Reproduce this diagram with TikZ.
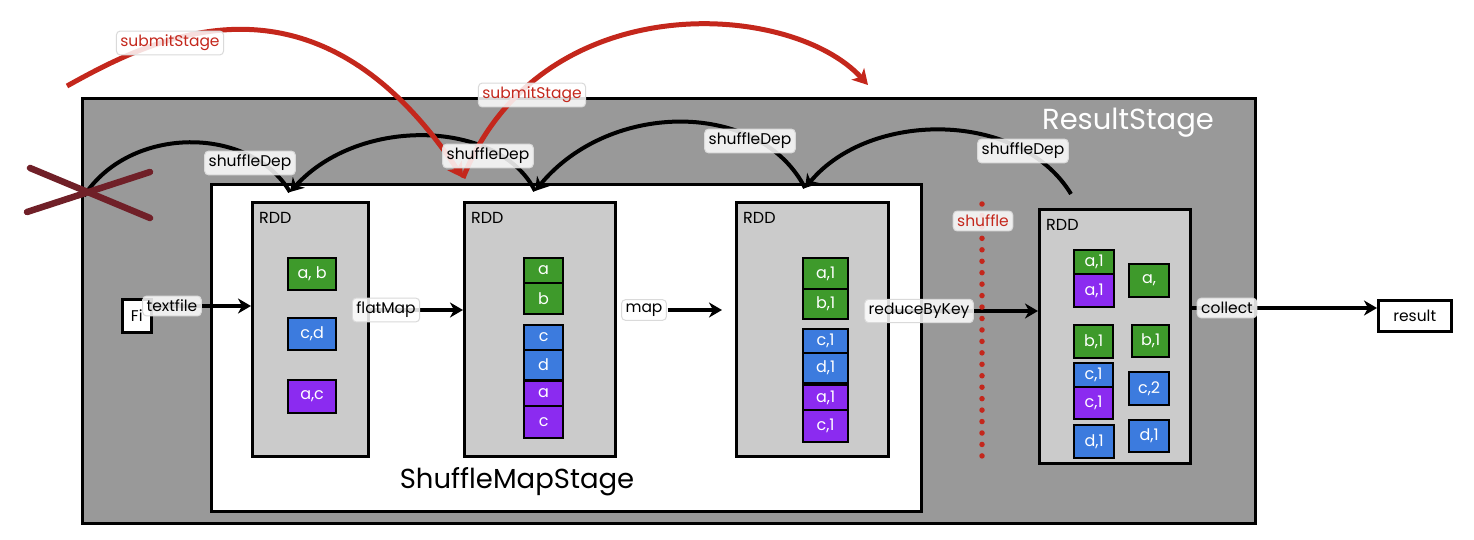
\documentclass[tikz,border=0pt]{standalone}
\usepackage{fontspec}
\setmainfont{Poppins}
\usetikzlibrary{arrows.meta,calc}
\definecolor{outergray}{HTML}{999999}
\definecolor{rddgray}{HTML}{CBCBCB}
\definecolor{cgreen}{HTML}{3E9A2B}
\definecolor{cblue}{HTML}{3C7BDE}
\definecolor{cpurple}{HTML}{8B2BF0}
\definecolor{cred}{HTML}{C4271C}
\definecolor{crossred}{HTML}{702028}
\definecolor{lblborder}{HTML}{DADADA}
\tikzset{
  stagebox/.style={draw=black, line width=3pt, inner sep=0pt, anchor=north west},
  rddbox/.style={draw=black, line width=2.6pt, fill=rddgray, inner sep=0pt, anchor=north west},
  cellbox/.style={draw=black, line width=2.2pt, inner sep=0pt, text=white, font=\fontsize{16}{16}\selectfont, anchor=north west},
  rddtxt/.style={anchor=west, inner sep=0pt, font=\fontsize{16}{16}\selectfont},
  lbl/.style={draw=lblborder, line width=1pt, fill=white, fill opacity=0.85, text opacity=1, rounded corners=4pt, inner xsep=4pt, inner ysep=4pt, font=\fontsize{15.5}{15.5}\selectfont},
  redlbl/.style={lbl, text=cred},
  flowarrow/.style={line width=4pt, -{Stealth[length=13pt,width=15pt,inset=4pt]}},
  deparrow/.style={line width=4pt, -{Stealth[length=13pt,width=16pt,inset=4pt]}},
  depline/.style={line width=4pt},
  redarrow/.style={draw=cred, line width=5pt, -{Stealth[length=15pt,width=17pt,inset=4pt]}},
  crossline/.style={draw=crossred, line width=6.5pt, line cap=round},
  smallbox/.style={draw=black, line width=2.5pt, fill=white, inner sep=0pt, anchor=north west, font=\fontsize{15.5}{15.5}\selectfont},
}
\begin{document}
\begin{tikzpicture}[x=1pt,y=-1pt]
\useasboundingbox (0,0) rectangle (1474,540);

% stages
\node[stagebox, fill=outergray, minimum width=1173pt, minimum height=425pt] (rstage) at (81,97) {};
\node[stagebox, fill=white, minimum width=710pt, minimum height=327pt] (smstage) at (210,183) {};
\node[font=\fontsize{27.5}{27.5}\selectfont] (smtitle) at (517,482) {ShuffleMapStage};
\node[font=\fontsize{29}{29}\selectfont, text=white] (rtitle) at (1128,123) {ResultStage};

% RDD boxes
\node[rddbox, minimum width=116pt, minimum height=254pt] (rdd1) at (251,201) {};
\node[rddbox, minimum width=151pt, minimum height=254pt] (rdd2) at (463,201) {};
\node[rddbox, minimum width=152pt, minimum height=254pt] (rdd3) at (735,201) {};
\node[rddbox, minimum width=151pt, minimum height=254pt] (rdd4) at (1038,208) {};
\node[rddtxt] (rdd1t) at ($(rdd1.north west)+(8,17)$) {RDD};
\node[rddtxt] (rdd2t) at ($(rdd2.north west)+(8,17)$) {RDD};
\node[rddtxt] (rdd3t) at ($(rdd3.north west)+(8,17)$) {RDD};
\node[rddtxt] (rdd4t) at ($(rdd4.north west)+(8,17)$) {RDD};

% RDD1 cells
\node[cellbox, fill=cgreen, minimum width=48pt, minimum height=32pt] (r1a) at (287,257) {a, b};
\node[cellbox, fill=cblue, minimum width=48pt, minimum height=32pt] (r1b) at (287,317) {c,d};
\node[cellbox, fill=cpurple, minimum width=48pt, minimum height=33pt] (r1c) at (287,379) {a,c};

% RDD2 cells
\node[cellbox, fill=cgreen, minimum width=39pt, minimum height=25pt] (r2a) at (523,257) {a};
\node[cellbox, fill=cgreen, minimum width=39pt, minimum height=31pt] (r2b) at (523,282) {b};
\node[cellbox, fill=cblue, minimum width=39pt, minimum height=25pt] (r2c) at (523,324) {c};
\node[cellbox, fill=cblue, minimum width=39pt, minimum height=30pt] (r2d) at (523,349) {d};
\node[cellbox, fill=cpurple, minimum width=39pt, minimum height=25pt] (r2e) at (523,380) {a};
\node[cellbox, fill=cpurple, minimum width=39pt, minimum height=32pt] (r2f) at (523,405) {c};

% RDD3 cells
\node[cellbox, fill=cgreen, minimum width=45pt, minimum height=31pt] (r3a) at (802,257) {a,1};
\node[cellbox, fill=cgreen, minimum width=45pt, minimum height=30pt] (r3b) at (802,288) {b,1};
\node[cellbox, fill=cblue, minimum width=45pt, minimum height=24pt] (r3c) at (802,328) {c,1};
\node[cellbox, fill=cblue, minimum width=45pt, minimum height=30pt] (r3d) at (802,352) {d,1};
\node[cellbox, fill=cpurple, minimum width=45pt, minimum height=25pt] (r3e) at (802,384) {a,1};
\node[cellbox, fill=cpurple, minimum width=45pt, minimum height=32pt] (r3f) at (802,409) {c,1};

% RDD4 cells
\node[cellbox, fill=cgreen, minimum width=40pt, minimum height=24pt] (r4a) at (1073,249) {a,1};
\node[cellbox, fill=cpurple, minimum width=40pt, minimum height=33pt] (r4b) at (1073,273) {a,1};
\node[cellbox, fill=cgreen, minimum width=39pt, minimum height=33pt] (r4c) at (1073,324) {b,1};
\node[cellbox, fill=cblue, minimum width=39pt, minimum height=24pt] (r4d) at (1073,362) {c,1};
\node[cellbox, fill=cpurple, minimum width=39pt, minimum height=32pt] (r4e) at (1073,386) {c,1};
\node[cellbox, fill=cblue, minimum width=40pt, minimum height=33pt] (r4f) at (1073,424) {d,1};
\node[cellbox, fill=cgreen, minimum width=40pt, minimum height=33pt] (r4g) at (1128,263) {a,};
\node[cellbox, fill=cgreen, minimum width=37pt, minimum height=32pt] (r4h) at (1131,324) {b,1};
\node[cellbox, fill=cblue, minimum width=40pt, minimum height=33pt] (r4i) at (1128,371) {c,2};
\node[cellbox, fill=cblue, minimum width=40pt, minimum height=32pt] (r4j) at (1128,419) {d,1};

% file and result
\node[smallbox, minimum width=29pt, minimum height=33pt] (file) at (121,298) {Fi};
\node[smallbox, minimum width=73pt, minimum height=31pt] (result) at (1377,299) {result};

% label positions
\coordinate (txtpos) at (172,306);
\coordinate (flatpos) at (386,310);
\coordinate (mappos) at (644,310);
\coordinate (rbkpos) at (919,311);
\coordinate (colpos) at (1227,308);

% flow arrows
\draw[flowarrow] (file.east |- txtpos) -- (rdd1.west |- txtpos);
\draw[flowarrow] (rdd1.east |- flatpos) -- (rdd2.west |- flatpos);
\draw[flowarrow, shorten <=51pt, shorten >=13pt] (rdd2.east |- mappos) -- (rdd3.west |- mappos);
\draw[flowarrow] (rdd3.east |- rbkpos) -- (rdd4.west |- rbkpos);
\draw[flowarrow] (rdd4.east |- colpos) -- (result.west |- colpos);

% shuffle line
\coordinate (sh1) at (982,204);
\coordinate (sh2) at (982,456);
\draw[cred, line width=5.5pt, line cap=round, dash pattern=on 0pt off 11.45pt] (sh1) -- (sh2);

% dependency curves
\coordinate (d1) at (290,192);
\coordinate (d2) at (535,191);
\coordinate (d3) at (805,188);
\coordinate (d4) at (1071,194);
\coordinate (xend) at (84,196);
\draw[deparrow] (d4) .. controls (1020,110) and (870,110) .. (d3);
\draw[deparrow] (d3) .. controls (760,100) and (610,100) .. (d2);
\draw[deparrow] (d2) .. controls (500,120) and (360,115) .. (d1);
\draw[depline] (d1) .. controls (250,125) and (130,125) .. (xend);

% submitStage curves
\coordinate (s0) at (67,86);
\coordinate (s1) at (463,178);
\coordinate (s2) at (868,85);
\draw[redarrow] (s0) .. controls (150,40) and (313,-47) .. (s1);
\draw[redarrow] (s1) .. controls (540,-15) and (790,0) .. (s2);

% cross
\coordinate (c1a) at (30,168);
\coordinate (c1b) at (150,218);
\coordinate (c2a) at (27,212);
\coordinate (c2b) at (150,172);
\draw[crossline] (c1a) -- (c1b);
\draw[crossline] (c2a) -- (c2b);

% labels
\node[lbl] (txtlbl) at (txtpos) {textfile};
\node[lbl] (flatlbl) at (flatpos) {flatMap};
\node[lbl] (maplbl) at (mappos) {map};
\node[lbl] (rbklbl) at (rbkpos) {reduceByKey};
\node[lbl] (collbl) at (colpos) {collect};
\node[redlbl] (shlbl) at (983,221) {shuffle};
\node[lbl] (dep1) at (250,163) {shuffleDep};
\node[lbl] (dep2) at (488,156) {shuffleDep};
\node[lbl] (dep3) at (750,141) {shuffleDep};
\node[lbl] (dep4) at (1023,151) {shuffleDep};
\node[redlbl] (sub1) at (170,43) {submitStage};
\node[redlbl] (sub2) at (532,95) {submitStage};
\end{tikzpicture}
\end{document}
